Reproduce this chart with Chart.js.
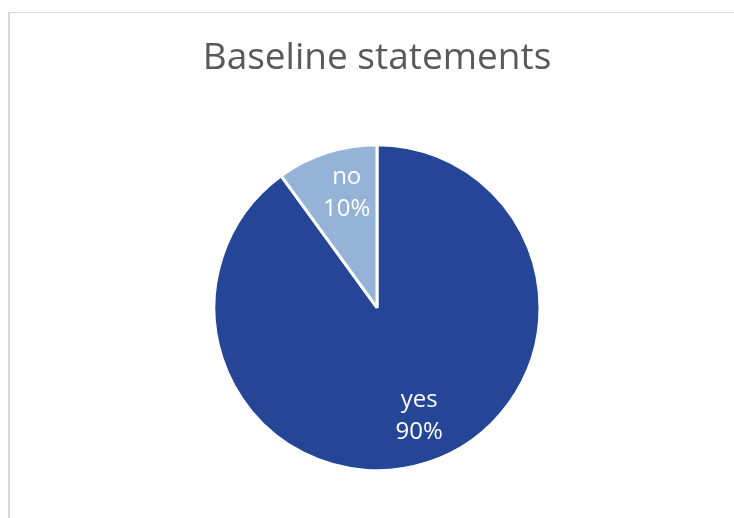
<!DOCTYPE html>
<html>
<head>
<meta charset="utf-8">
<script src="https://cdn.jsdelivr.net/npm/chart.js@4/dist/chart.umd.min.js"></script>
<style>
  html, body { margin: 0; padding: 0; background: #ffffff; }
  #wrap { position: relative; width: 734px; height: 518px; overflow: hidden; }
  #frame { position: absolute; left: 8px; top: 12px; width: 760px; height: 560px;
           border-top: 1px solid #d9d9d9; border-left: 2px solid #d9d9d9; box-sizing: border-box; }
  #c { position: absolute; left: 0; top: 0; }
</style>
</head>
<body>
<div id="wrap">
  <div id="frame"></div>
  <canvas id="c" width="734" height="518"></canvas>
</div>
<script>
const titleText = "Baseline statements";
const categories = ["yes", "no"];
const values = [90, 10];
const percentLabels = ["90%", "10%"];
const colors = ["#254696", "#95B3D7"];

const insideLabels = {
  id: "insideLabels",
  afterDatasetsDraw(chart) {
    const ctx = chart.ctx;
    const meta = chart.getDatasetMeta(0);
    ctx.save();
    ctx.fillStyle = "#ffffff";
    ctx.font = "24px 'Open Sans'";
    ctx.textAlign = "center";
    ctx.textBaseline = "middle";
    meta.data.forEach((arc, i) => {
      const p = arc.getProps(["x", "y", "startAngle", "endAngle", "outerRadius"], true);
      const mid = (p.startAngle + p.endAngle) / 2;
      const r = p.outerRadius * 0.72;
      const px = p.x + Math.cos(mid) * r + 6;
      const py = p.y + Math.sin(mid) * r - 3;
      ctx.fillText(categories[i], px, py - 16);
      ctx.fillText(percentLabels[i], px, py + 16);
    });
    ctx.restore();
  }
};

new Chart(document.getElementById("c"), {
  type: "pie",
  data: {
    labels: categories,
    datasets: [{
      data: values,
      backgroundColor: colors,
      borderColor: "#ffffff",
      borderWidth: 3
    }]
  },
  options: {
    responsive: false,
    animation: false,
    radius: 163,
    layout: { padding: { left: 20, right: 0, top: 0, bottom: 0 } },
    plugins: {
      legend: { display: false },
      tooltip: { enabled: false },
      title: {
        display: true,
        text: titleText,
        color: "#595959",
        font: { family: "'Open Sans'", size: 37, weight: "normal", lineHeight: 1.2 },
        padding: { top: 36, bottom: 17 }
      }
    }
  },
  plugins: [insideLabels]
});
</script>
</body>
</html>
